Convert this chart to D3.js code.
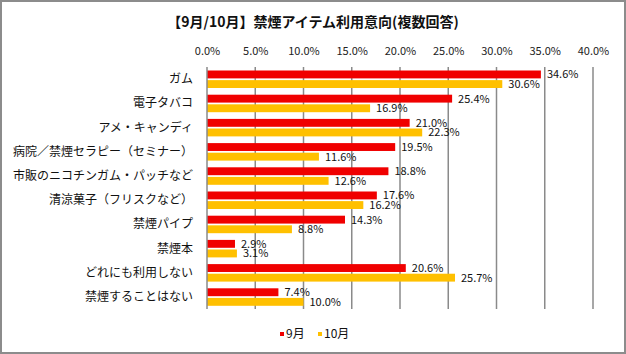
<!DOCTYPE html>
<html>
<head>
<meta charset="utf-8">
<script src="https://cdn.jsdelivr.net/npm/d3@7"></script>
<style>
  body { margin: 0; background: #fff; }
  text { font-family: "Noto Sans CJK JP", "Noto Sans", sans-serif; }
</style>
</head>
<body>
<div id="chart"></div>
<script>
const categories = [
  "ガム",
  "電子タバコ",
  "アメ・キャンディ",
  "病院／禁煙セラピー（セミナー）",
  "市販のニコチンガム・パッチなど",
  "清涼菓子（フリスクなど）",
  "禁煙パイプ",
  "禁煙本",
  "どれにも利用しない",
  "禁煙することはない"
];
const sep = [34.6, 25.4, 21.0, 19.5, 18.8, 17.6, 14.3, 2.9, 20.6, 7.4];
const oct = [30.6, 16.9, 22.3, 11.6, 12.6, 16.2, 8.8, 3.1, 25.7, 10.0];
const seriesNames = ["9月", "10月"];
const ticks = [0, 5, 10, 15, 20, 25, 30, 35, 40];

const colors = ["#f00000", "#ffc000"];
const W = 626, H = 354;

const svg = d3.select("#chart")
  .append("svg")
  .attr("width", W)
  .attr("height", H);

// outer frame
svg.append("rect")
  .attr("x", 1).attr("y", 1)
  .attr("width", W - 2).attr("height", H - 2)
  .attr("fill", "#fff")
  .attr("stroke", "#8c8c8c")
  .attr("stroke-width", 2);

const x = d3.scaleLinear().domain([0, 40]).range([207, 593]);
const y = d3.scaleBand().domain(categories).range([67, 309]);
const ys = d3.scaleBand().domain(seriesNames).range([3.5, 21]).paddingInner(0.18);

// title
svg.append("text")
  .attr("x", 313)
  .attr("y", 27)
  .attr("text-anchor", "middle")
  .attr("font-size", "14px")
  .attr("font-weight", "bold")
  .attr("fill", "#111")
  .text("【9月/10月】禁煙アイテム利用意向(複数回答)");

// gridlines
svg.append("g")
  .selectAll("line")
  .data(ticks.slice(1))
  .enter()
  .append("line")
  .attr("x1", d => x(d)).attr("x2", d => x(d))
  .attr("y1", 67).attr("y2", 309)
  .attr("stroke", "#8a8a8a")
  .attr("stroke-width", 1.5);

// top axis labels
const axisTop = svg.append("g")
  .attr("transform", "translate(0,67)")
  .call(d3.axisTop(x).tickValues(ticks).tickFormat(d => d.toFixed(1) + "%").tickSize(0).tickPadding(12));
axisTop.select(".domain").remove();
axisTop.selectAll("text")
  .attr("font-family", "'Liberation Sans', sans-serif")
  .attr("font-size", "11px")
  .attr("fill", "#222");

// bars
const rows = categories.map((c, i) => ({ cat: c, vals: [sep[i], oct[i]] }));
const groups = svg.append("g")
  .selectAll("g")
  .data(rows)
  .enter()
  .append("g")
  .attr("transform", d => `translate(0,${y(d.cat)})`);

groups.selectAll("rect")
  .data(d => d.vals.map((v, j) => ({ s: seriesNames[j], v: v, j: j })))
  .enter()
  .append("rect")
  .attr("x", x(0))
  .attr("y", d => ys(d.s))
  .attr("width", d => x(d.v) - x(0))
  .attr("height", ys.bandwidth())
  .attr("fill", d => colors[d.j]);

groups.selectAll(".label")
  .data(d => d.vals.map((v, j) => ({ s: seriesNames[j], v: v })))
  .enter()
  .append("text")
  .attr("class", "label")
  .attr("x", d => x(d.v) + 6)
  .attr("y", d => ys(d.s) + ys.bandwidth() / 2 + 4)
  .attr("font-family", "'Liberation Sans', sans-serif")
  .attr("font-size", "11px")
  .attr("fill", "#111")
  .text(d => d.v.toFixed(1) + "%");

// left axis line
svg.append("line")
  .attr("x1", x(0)).attr("x2", x(0))
  .attr("y1", 67).attr("y2", 309)
  .attr("stroke", "#8a8a8a")
  .attr("stroke-width", 1.5);

// category labels
svg.append("g")
  .selectAll("text")
  .data(categories)
  .enter()
  .append("text")
  .attr("x", 193)
  .attr("y", d => y(d) + y.bandwidth() / 2 + 4)
  .attr("text-anchor", "end")
  .attr("font-size", "12px")
  .attr("fill", "#111")
  .text(d => d);

// legend
const legendX = [280, 318];
const legend = svg.append("g")
  .selectAll("g")
  .data(seriesNames)
  .enter()
  .append("g")
  .attr("transform", (d, i) => `translate(${legendX[i]},334)`);
legend.append("rect")
  .attr("x", 0).attr("y", -2)
  .attr("width", 4).attr("height", 4)
  .attr("fill", (d, i) => colors[i]);
legend.append("text")
  .attr("x", 6)
  .attr("y", 4)
  .attr("font-size", "12px")
  .attr("fill", "#111")
  .text(d => d);
</script>
</body>
</html>
